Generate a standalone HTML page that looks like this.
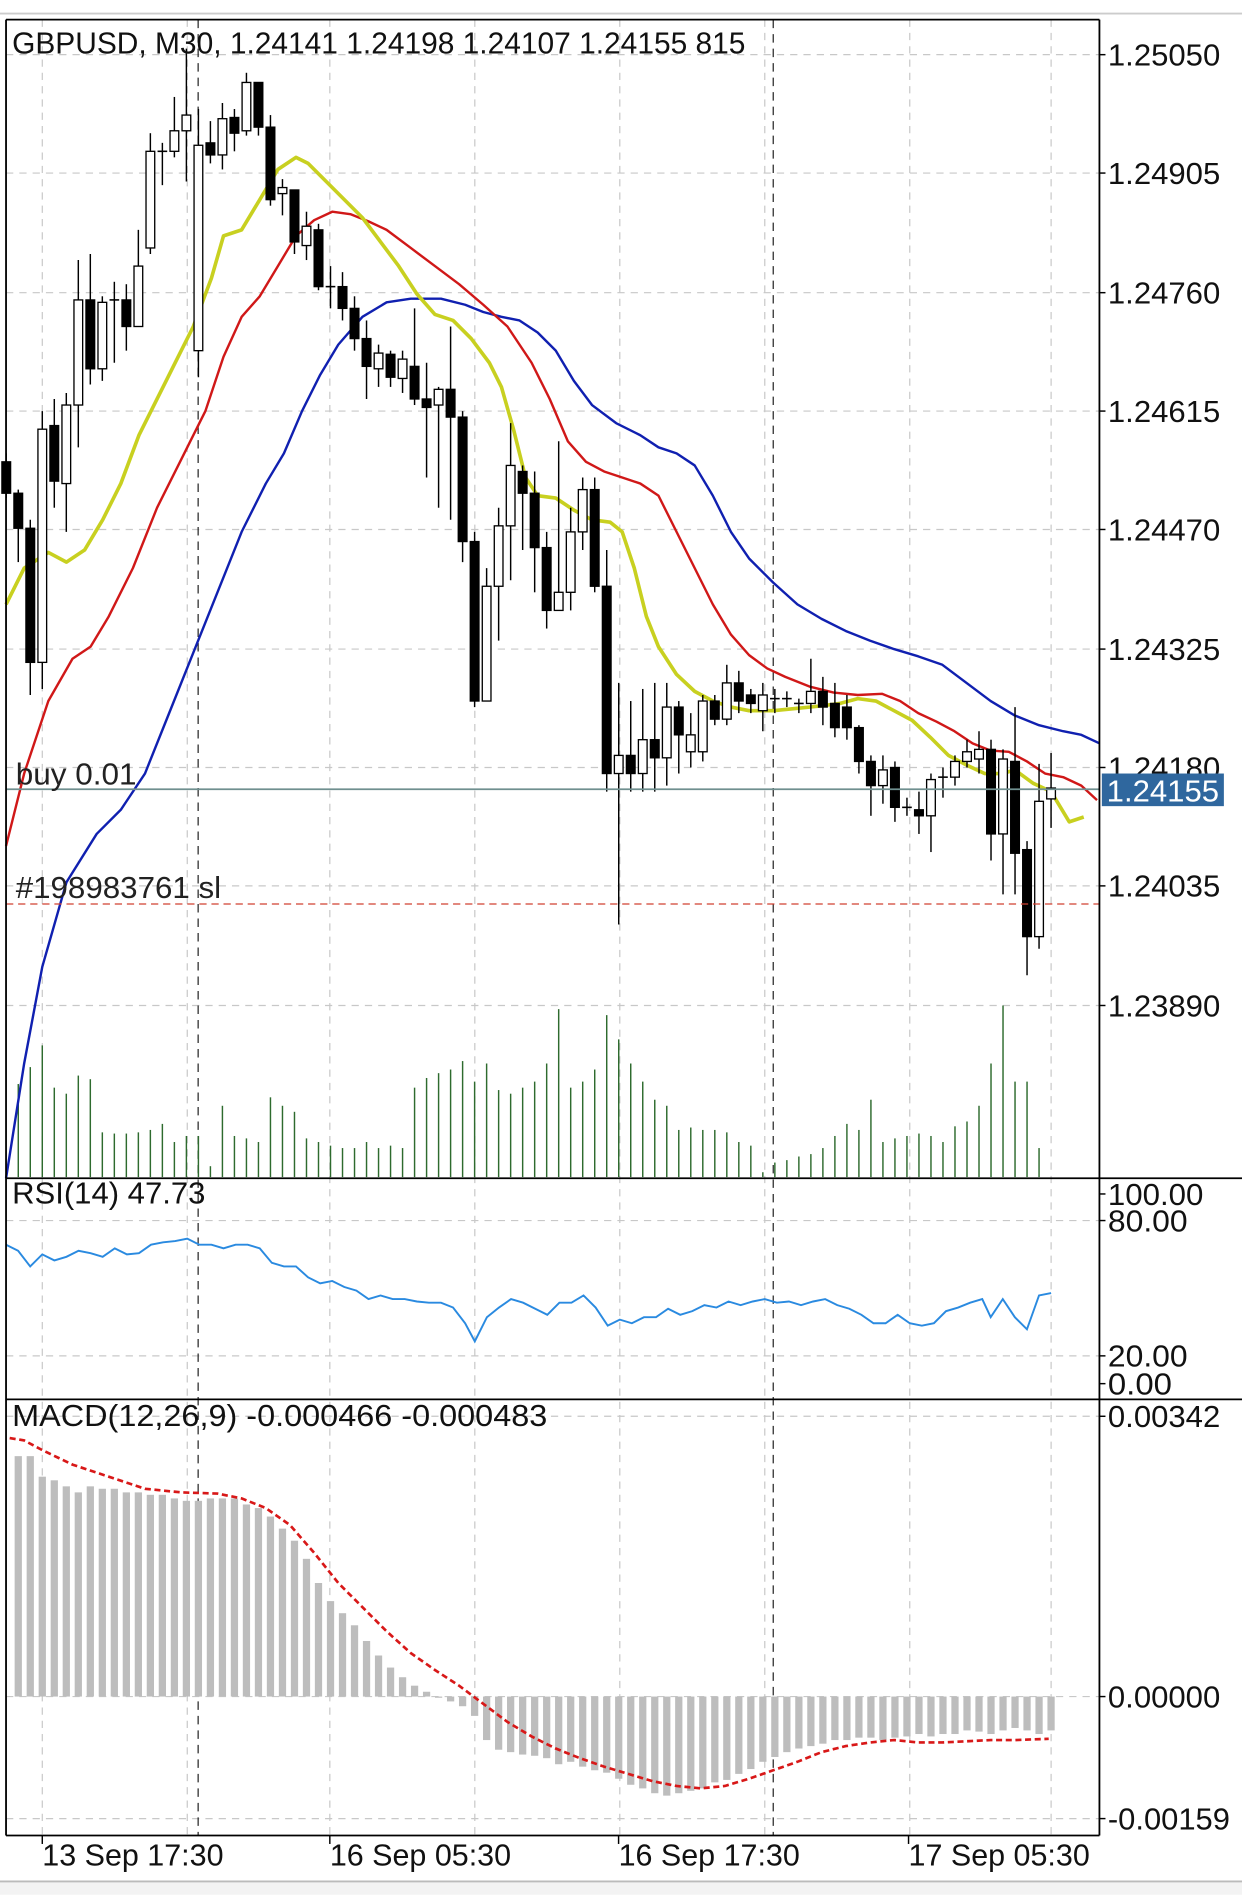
<!DOCTYPE html>
<html><head><meta charset="utf-8"><style>
html,body{margin:0;padding:0;background:#fff;}
#c{width:1242px;height:1895px;display:block;}
text{font-family:"Liberation Sans",sans-serif;}
</style></head><body>
<svg id="c" viewBox="0 0 1028 1568" width="1242" height="1895" xmlns="http://www.w3.org/2000/svg"></svg>
<script>
var s='';
function L(x1,y1,x2,y2,st){s+='<line x1="'+x1+'" y1="'+y1+'" x2="'+x2+'" y2="'+y2+'" '+st+'/>';}
function T(x,y,t,len,col){s+='<text x="'+x+'" y="'+y+'" font-size="25" fill="'+(col||'#111')+'"'+(len?' textLength="'+len+'" lengthAdjust="spacingAndGlyphs"':'')+'>'+t+'</text>';}
function P(pts,st){s+='<polyline fill="none" points="'+pts.map(function(p){return p.join(',')}).join(' ')+'" '+st+'/>';}
s+='<rect x="0" y="0" width="1028" height="1568" fill="#fff"/>';
s+='<rect x="0" y="1557" width="1028" height="11" fill="#f3f3f3"/>';
L(0,1557,1028,1557,'stroke="#bbb" stroke-width="1.5"');
L(0,11,1028,11,'stroke="#ccc" stroke-width="1.5"');
var gd='stroke="#c8c8c8" stroke-width="1" stroke-dasharray="6,5"';
[45,143,242,340,438,537,635,733,832].forEach(function(y){L(5,y,910,y,gd);});
[1010,1122].forEach(function(y){L(5,y,910,y,gd);});
[1172,1404,1505].forEach(function(y){L(5,y,910,y,gd);});
[35,155,273,393,513,633,753,870].forEach(function(x){L(x,16,x,1519,gd);});
[164,640].forEach(function(x){L(x,16,x,1519,'stroke="#222" stroke-width="1" stroke-dasharray="7,5"');});
var vol=[975,897,883,865,900,905,890,893,937,938,938,937,935,930,945,940,940,965,915,940,942,945,908,915,920,942,945,948,950,950,945,950,948,950,900,892,888,885,878,895,880,902,905,900,895,880,835,900,895,885,840,860,880,895,910,915,935,933,935,935,937,945,948,970,962,960,957,955,950,940,930,935,910,945,942,940,938,940,945,932,928,915,880,832,895,895,950,975];
function X(i){return 35+9.94*i;}
vol.forEach(function(v,k){var x=X(k-3);if(v<974)L(x,v,x,974,'stroke="#2e6b2e" stroke-width="1.2"');});
P([[5,975],[20,880],[35,800],[55,730],[80,690],[100,670],[120,640],[140,590],[160,540],[180,490],[200,440],[220,400],[235,375],[250,340],[265,310],[280,285],[300,262],[320,250],[340,247],[365,247],[385,252],[400,258],[415,262],[430,265],[445,275],[460,290],[475,315],[490,335],[510,350],[530,360],[545,370],[560,375],[575,385],[590,410],[605,440],[620,462],[640,482],[660,500],[680,512],[700,522],[720,530],[740,537],[760,543],[780,550],[800,565],[820,580],[840,592],[860,600],[880,605],[895,608],[910,615]],'stroke="#1020b0" stroke-width="2" stroke-linejoin="round"');
P([[5,700],[20,640],[40,580],[60,545],[75,535],[90,510],[110,470],[130,420],[150,380],[170,340],[185,295],[200,262],[215,245],[230,220],[245,195],[260,182],[275,175],[290,177],[305,183],[320,190],[340,205],[360,220],[380,235],[400,252],[420,270],[440,300],[455,330],[470,365],[485,382],[500,390],[515,395],[530,400],[545,410],[560,440],[575,470],[590,500],[605,525],[620,542],[635,553],[650,560],[670,568],[690,573],[710,575],[730,574],[745,580],[760,590],[775,597],[790,605],[805,615],[820,621],[835,622],[850,630],[865,640],[880,643],[895,650],[908,662]],'stroke="#d01818" stroke-width="2" stroke-linejoin="round"');
P([[5,500],[20,470],[40,457],[55,465],[70,455],[85,430],[100,400],[115,360],[130,330],[145,300],[160,270],[175,230],[185,195],[200,190],[215,165],[230,140],[245,130],[255,135],[270,150],[285,165],[300,180],[315,200],[330,220],[345,243],[360,260],[375,265],[390,280],[405,300],[415,320],[425,355],[435,395],[445,410],[460,412],[475,422],[490,430],[505,432],[515,440],[525,470],[535,510],[545,535],[560,558],[575,572],[590,580],[605,585],[620,588],[640,588],[660,586],[680,584],[695,582],[710,578],[725,580],[740,588],[755,596],[770,610],[785,625],[800,633],[815,640],[830,640],[840,637],[855,648],[870,655],[885,680],[897,676]],'stroke="#c8d020" stroke-width="3" stroke-linejoin="round"');
var C=[[-3,'b',382,408,375,412],[-2,'b',408,437,405,465],[-1,'b',437,548,430,575],[0,'w',355,548,340,570],[1,'b',352,398,330,420],[2,'w',335,400,325,440],[3,'w',248,335,215,370],[4,'b',248,305,210,318],[5,'w',250,305,245,315],[6,'d',248,248,233,300],[7,'b',248,270,235,290],[8,'w',220,270,190,270],[9,'w',125,205,110,210],[10,'d',125,125,118,153],[11,'w',108,125,80,130],[12,'w',95,108,40,150],[13,'w',120,290,90,312],[14,'b',118,128,100,135],[15,'w',98,128,85,140],[16,'b',97,110,90,125],[17,'w',68,108,60,112],[18,'b',68,105,68,112],[19,'b',105,165,95,170],[20,'w',155,160,148,178],[21,'b',157,200,157,210],[22,'w',187,203,175,215],[23,'b',190,237,185,240],[24,'d',237,237,220,255],[25,'b',237,255,225,265],[26,'b',255,280,245,290],[27,'b',280,303,265,330],[28,'w',292,305,285,320],[29,'b',293,312,290,320],[30,'w',297,313,290,325],[31,'b',303,330,255,335],[32,'b',330,337,300,395],[33,'w',322,335,320,420],[34,'b',322,345,270,430],[35,'b',345,448,340,465],[36,'b',448,580,440,585],[37,'w',485,580,470,580],[38,'w',435,485,420,530],[39,'w',385,435,350,480],[40,'b',390,408,385,455],[41,'b',408,453,390,490],[42,'b',453,505,440,520],[43,'w',490,505,365,505],[44,'w',440,490,420,505],[45,'w',405,440,395,455],[46,'b',405,485,395,490],[47,'b',485,640,455,655],[48,'w',625,640,565,765],[49,'b',625,640,580,655],[50,'w',612,640,570,655],[51,'b',612,627,565,655],[52,'w',585,627,565,650],[53,'b',585,608,580,640],[54,'w',608,622,590,635],[55,'w',580,622,575,630],[56,'b',580,595,575,600],[57,'w',565,595,550,600],[58,'b',565,580,555,590],[59,'b',575,582,570,590],[60,'w',575,588,565,605],[61,'d',578,578,570,590],[62,'d',578,578,572,585],[63,'d',582,582,578,590],[64,'w',572,582,545,590],[65,'b',572,585,560,600],[66,'b',582,602,565,610],[67,'b',585,602,575,612],[68,'b',602,630,600,640],[69,'b',630,650,625,675],[70,'w',637,650,625,665],[71,'b',635,668,630,680],[72,'d',668,668,660,675],[73,'b',670,675,655,690],[74,'w',645,675,640,705],[75,'d',643,643,635,660],[76,'w',630,643,625,650],[77,'w',622,630,612,635],[78,'w',620,628,605,640],[79,'b',620,690,612,712],[80,'w',628,690,620,740],[81,'b',630,706,585,740],[82,'b',703,775,696,807],[83,'w',663,775,632,785],[84,'w',652,661,623,685]];
C.forEach(function(c){var x=X(c[0]);L(x,c[4],x,c[5],'stroke="#000" stroke-width="1.2"');
 if(c[1]=='d'){L(x-4,c[2],x+4,c[2],'stroke="#000" stroke-width="1.3"');}
 else{var h=Math.max(c[3]-c[2],1.5);s+='<rect x="'+(x-3.6)+'" y="'+c[2]+'" width="7.2" height="'+h+'" fill="'+(c[1]=='b'?'#000':'#fff')+'" stroke="#000" stroke-width="1.1"/>';}});
L(5,653,910,653,'stroke="#6f8f8f" stroke-width="1.5"');
L(5,748,910,748,'stroke="#d04030" stroke-width="1" stroke-dasharray="6,4"');
T(13,649,'buy 0.01',100,'#222');
T(13,743,'#198983761 sl',170,'#222');
T(10,44,'GBPUSD, M30, 1.24141 1.24198 1.24107 1.24155 815',607);
P([[5,1030],[15,1035],[25,1048],[35,1038],[45,1043],[55,1040],[65,1035],[75,1037],[85,1040],[95,1033],[105,1038],[115,1037],[125,1030],[135,1028],[145,1027],[155,1025],[165,1030],[175,1030],[185,1033],[195,1030],[205,1030],[215,1033],[225,1045],[235,1048],[245,1048],[255,1057],[265,1062],[275,1060],[285,1065],[295,1068],[305,1075],[315,1072],[325,1075],[335,1075],[345,1077],[355,1078],[365,1078],[375,1082],[385,1095],[393,1110],[403,1090],[413,1082],[423,1075],[433,1078],[443,1083],[453,1088],[463,1078],[473,1078],[483,1072],[493,1082],[503,1097],[513,1092],[523,1095],[533,1090],[543,1090],[553,1083],[563,1088],[573,1085],[583,1080],[593,1082],[603,1077],[613,1080],[623,1077],[633,1075],[643,1078],[653,1077],[663,1080],[673,1077],[683,1075],[693,1080],[703,1083],[713,1088],[723,1095],[733,1095],[743,1088],[753,1095],[763,1097],[773,1095],[783,1085],[793,1082],[803,1078],[813,1075],[820,1090],[830,1075],[840,1090],[850,1100],[860,1072],[870,1070]],'stroke="#2a8ae0" stroke-width="1.6"');
T(10,996,'RSI(14) 47.73',160);
var H=[1205,1205,1222,1225,1230,1235,1230,1232,1232,1235,1235,1237,1237,1240,1242,1242,1240,1240,1240,1245,1248,1255,1265,1275,1290,1310,1325,1335,1345,1358,1370,1380,1388,1395,1400,1405,1408,1412,1420,1440,1448,1450,1452,1453,1455,1460,1458,1462,1465,1467,1472,1477,1480,1484,1486,1484,1482,1480,1475,1473,1468,1464,1458,1454,1450,1447,1445,1443,1440,1440,1438,1438,1440,1438,1437,1435,1437,1435,1435,1432,1433,1435,1432,1430,1432,1435,1432];
H.forEach(function(v,k){var x=X(k-2)-3;var t=Math.min(v,1404),h=Math.abs(v-1404);if(h<1)h=1;s+='<rect x="'+x+'" y="'+t+'" width="6" height="'+h+'" fill="#bdbdbd"/>';});
P([[8,1190],[20,1192],[35,1200],[60,1212],[90,1222],[120,1232],[150,1235],[180,1236],[200,1240],[220,1248],[240,1262],[260,1285],[280,1310],[300,1330],[320,1350],[340,1368],[360,1382],[380,1395],[400,1410],[420,1425],[440,1437],[460,1447],[480,1455],[500,1462],[520,1468],[540,1474],[560,1478],[580,1480],[600,1478],[620,1472],[640,1465],[660,1458],[680,1450],[700,1445],[720,1442],[740,1440],[760,1442],[780,1442],[800,1441],[820,1440],[840,1440],[868,1439]],'stroke="#d81818" stroke-width="2.2" stroke-dasharray="5,3"');
T(10,1180,'MACD(12,26,9) -0.000466 -0.000483',443);
L(5,16,910,16,'stroke="#000" stroke-width="1.5"');
L(5,16,5,1519,'stroke="#000" stroke-width="1.5"');
L(910,16,910,1519,'stroke="#000" stroke-width="1.5"');
L(5,1519,910,1519,'stroke="#000" stroke-width="1.5"');
L(5,975,1028,975,'stroke="#000" stroke-width="1.5"');
L(5,1158,1028,1158,'stroke="#000" stroke-width="1.5"');
[['1.25050',45],['1.24905',143],['1.24760',242],['1.24615',340],['1.24470',438],['1.24325',537],['1.24180',635],['1.24035',733],['1.23890',832]].forEach(function(a){L(910,a[1],915,a[1],'stroke="#000" stroke-width="1.2"');T(917,a[1]+9,a[0],93);});
s+='<rect x="912" y="640" width="101" height="27" fill="#2f679e"/>';
T(916,663,'1.24155',93,'#fff');
[['100.00',988,79],['80.00',1010,66],['20.00',1122,66],['0.00',1145,53]].forEach(function(a){L(910,a[1],915,a[1],'stroke="#000" stroke-width="1.2"');T(917,a[1]+9,a[0],a[2]);});
[['0.00342',1172,93],['0.00000',1404,93],['-0.00159',1505,101]].forEach(function(a){L(910,a[1],915,a[1],'stroke="#000" stroke-width="1.2"');T(917,a[1]+9,a[0],a[2]);});
[['13 Sep 17:30',35],['16 Sep 05:30',273],['16 Sep 17:30',512],['17 Sep 05:30',752]].forEach(function(a){L(a[1],1519,a[1],1526,'stroke="#000" stroke-width="1.2"');T(a[1],1544,a[0],150);});
document.getElementById('c').innerHTML=s;
</script>
</body></html>
